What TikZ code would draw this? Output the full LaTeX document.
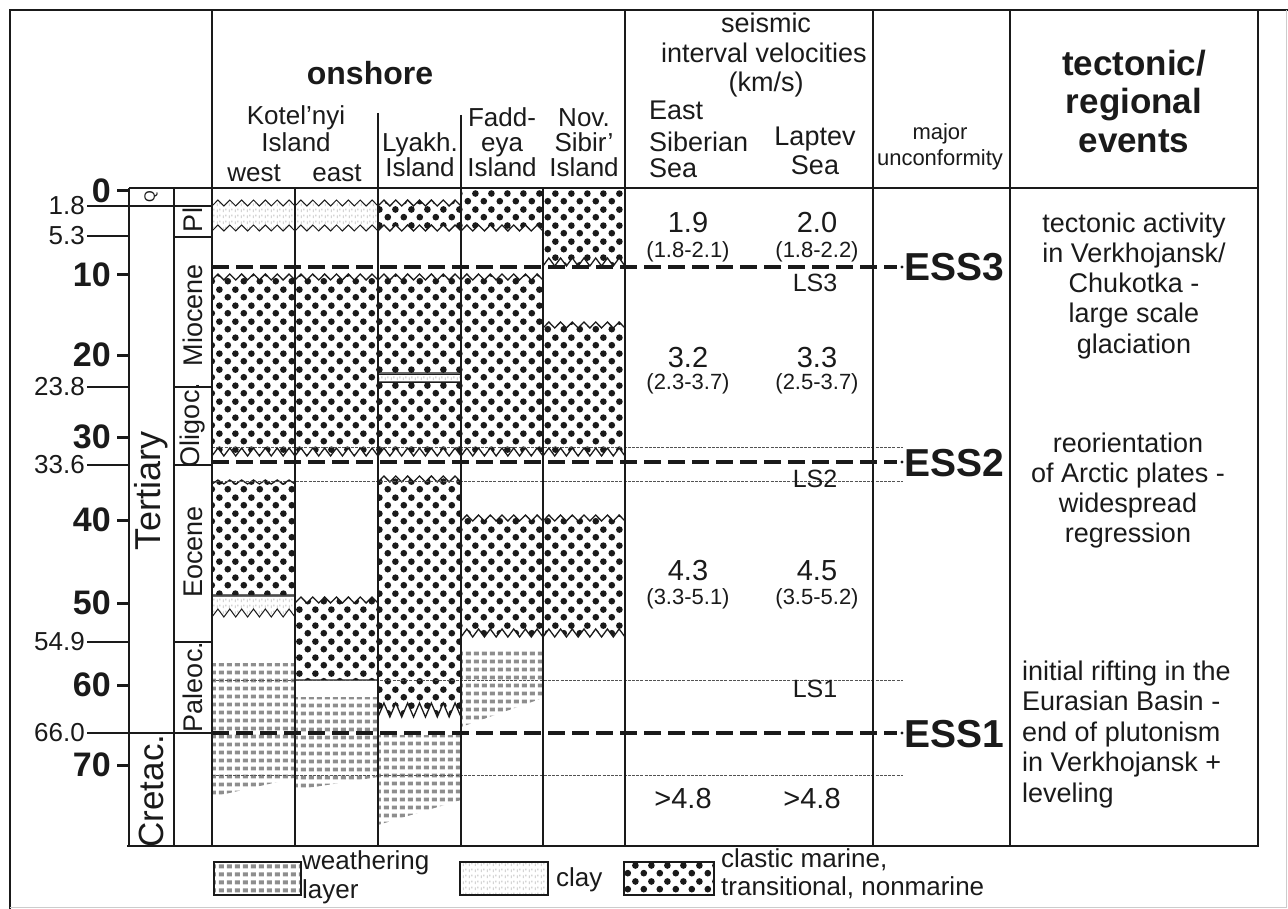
\documentclass[tikz,border=0pt]{standalone}
\usepackage{fontspec}
\setmainfont{Liberation Sans}
\usetikzlibrary{patterns}
\definecolor{ink}{HTML}{1A1A1A}
\definecolor{weathr}{HTML}{8E8E8E}
\definecolor{clayg}{HTML}{BDBDBD}
\definecolor{rim}{HTML}{CCCCCC}
\pgfdeclarepatternformonly{clastic}{\pgfqpoint{0pt}{0pt}}{\pgfqpoint{16pt}{16pt}}{\pgfqpoint{16pt}{16pt}}{%
  \pgfpathcircle{\pgfqpoint{4pt}{4pt}}{3.5pt}%
  \pgfpathcircle{\pgfqpoint{12pt}{12pt}}{3.5pt}%
  \pgfusepath{fill}}
\pgfdeclarepatternformonly{weathering}{\pgfqpoint{0pt}{0pt}}{\pgfqpoint{7.5pt}{7.5pt}}{\pgfqpoint{7.5pt}{7.5pt}}{%
  \pgfpathrectangle{\pgfqpoint{1pt}{1.8pt}}{\pgfqpoint{5.2pt}{4pt}}%
  \pgfusepath{fill}}
\pgfdeclarepatternformonly{clay}{\pgfqpoint{0pt}{0pt}}{\pgfqpoint{6pt}{6pt}}{\pgfqpoint{6pt}{6pt}}{%
  \pgfpathrectangle{\pgfqpoint{1pt}{1pt}}{\pgfqpoint{1pt}{3pt}}%
  \pgfpathrectangle{\pgfqpoint{4pt}{3pt}}{\pgfqpoint{1pt}{2pt}}%
  \pgfusepath{fill}}
% zigzag edge from x=#1 to x=#2 around y=#3, amplitude #4
\newcommand\zzto[4]{\foreach \k in {1,...,14}{ -- ({#1+(#2-#1)*\k/14},{#3+#4-2*#4*mod(\k,2)})}}
% one bed: style, x1, x2, top y, top amplitude, bottom y, bottom amplitude
\newcommand\bed[7]{\draw[#1] (#2,{#4+#5}) \zzto{#2}{#3}{#4}{#5} -- (#3,{#6+#7}) \zzto{#3}{#2}{#6}{#7} -- cycle;}
\tikzset{
  % ---- frame and grid --------------------------------------------
  frame/.style  = {draw=ink, line width=2.6pt},
  colline/.style= {draw=ink, line width=2.4pt},
  thin/.style   = {draw=ink, line width=1.4pt},
  tick/.style   = {draw=ink, line width=3pt},
  ess/.style    = {draw=ink, line width=3.2pt, dash pattern=on 17pt off 7pt},
  lsline/.style = {draw=ink!75, line width=.7pt, dash pattern=on 3pt off 1.2pt},
  % ---- lithology -------------------------------------------------
  bedC/.style   = {pattern=clastic, pattern color=ink, draw=ink, line width=1.3pt},
  bedW/.style   = {pattern=weathering, pattern color=weathr},
  bedL/.style   = {pattern=clay, pattern color=clayg, draw=ink, line width=1pt},
  legbox/.style = {draw=ink, line width=2pt},
  % ---- text (single lines, placed on their base line) ------------
  txt/.style    = {text=ink, inner sep=0pt, anchor=base},
  hdr/.style    = {txt, font=\fontsize{26}{26}\selectfont},
  onsh/.style   = {txt, font=\fontsize{32}{32}\selectfont\bfseries},
  seis/.style   = {txt, font=\fontsize{27}{27}\selectfont},
  evhdr/.style  = {txt, font=\fontsize{35}{35}\selectfont\bfseries},
  small/.style  = {txt, font=\fontsize{22}{22}\selectfont},
  vel/.style    = {txt, font=\fontsize{29}{29}\selectfont},
  velsub/.style = {txt, font=\fontsize{22}{22}\selectfont},
  lsl/.style    = {txt, font=\fontsize{25}{25}\selectfont},
  essl/.style   = {txt, font=\fontsize{39}{39}\selectfont\bfseries, anchor=base west},
  event/.style  = {txt, font=\fontsize{27}{27}\selectfont},
  leg/.style    = {txt, font=\fontsize{26}{26}\selectfont, anchor=base west},
  majnum/.style = {text=ink, inner sep=0pt, font=\fontsize{34}{34}\selectfont\bfseries, anchor=east},
  minnum/.style = {text=ink, inner sep=0pt, font=\fontsize{26}{26}\selectfont, anchor=east},
  epoch/.style  = {text=ink, inner sep=0pt, font=\fontsize{27}{27}\selectfont, rotate=90},
  period/.style = {text=ink, inner sep=0pt, font=\fontsize{36}{36}\selectfont, rotate=90},
}

\begin{document}
\begin{tikzpicture}[x=1pt, y=-1pt]
\useasboundingbox (0,0) rectangle (1288,909);
% ---- weathering layers (beneath) ---------------------------------
\fill[bedW] (212,663) -- (295,663) -- (295,778) -- (212,797) -- cycle;
\fill[bedW] (295,697) -- (378,697) -- (378,777) -- (295,790) -- cycle;
\fill[bedW] (378,735) -- (461,735) -- (461,800) -- (378,825) -- cycle;
\fill[bedW] (461,648) -- (543,648) -- (543,698) -- (461,727) -- cycle;
% ---- clay --------------------------------------------------------
\bed{bedL}{212}{295}{203}{3}{228}{3}
\bed{bedL}{295}{378}{203}{3}{228}{3}
\bed{bedL}{212}{295}{596}{0}{613}{4}
\draw[bedL] (378,374) rectangle (461,382);
% ---- clastic -----------------------------------------------------
\bed{bedC}{212}{295}{277}{3}{452}{4}
\bed{bedC}{212}{295}{482}{2}{595}{0}
\bed{bedC}{295}{378}{277}{3}{452}{4}
\bed{bedC}{295}{378}{600}{3}{680}{0}
\bed{bedC}{378}{461}{203}{3}{228}{3}
\bed{bedC}{378}{461}{277}{3}{373}{0}
\bed{bedC}{378}{461}{382}{0}{452}{4}
\bed{bedC}{378}{461}{479}{3}{710}{7}
\bed{bedC}{461}{543}{188}{0}{228}{3}
\bed{bedC}{461}{543}{277}{3}{452}{4}
\bed{bedC}{461}{543}{518}{3}{633}{4}
\bed{bedC}{543}{625}{188}{0}{262}{4}
\bed{bedC}{543}{625}{325}{3}{452}{4}
\bed{bedC}{543}{625}{518}{3}{633}{4}
% ---- seismic horizons --------------------------------------------
\foreach \y in {447,481,680,775}{\draw[lsline] (212,\y) -- (903,\y);}
\foreach \y/\n in {267/3,462/2,733/1}{
  \draw[ess] (212,\y) -- (897,\y);
  \fill[ink] (902,\y) circle (1.6);
  \node[essl] (ess\n) at (904,\y+14) {ESS\n};
}
% ---- grid --------------------------------------------------------
\draw[frame] (10,909) -- (10,10) -- (1288,10);
\draw[rim, line width=1pt] (10,907) -- (1286,907) -- (1286,10);
\draw[colline] (212,10) -- (212,846);
\foreach \x in {625,873,1010,1258}{\draw[colline] (\x,10) -- (\x,846);}
\foreach \x in {129,174,295,543}{\draw[colline] (\x,188) -- (\x,846);}
\draw[colline] (378,113) -- (378,846);
\draw[colline] (461,115) -- (461,846);
\draw[colline] (129,188) -- (1258,188);
\draw[frame] (127,846) -- (1259,846);
% ---- time scale --------------------------------------------------
\foreach \v/\y in {0/191,10/275,20/355,30/437,40/520,50/603,60/685,70/765}{
  \draw[tick] (117,\y) -- (129,\y);
  \node[majnum] (ma\v) at (111,\y) {\v};
}
\foreach \v/\y [count=\n] in {1.8/206,5.3/236,23.8/387,33.6/465,54.9/642,66.0/733}{
  \draw[thin] (87,\y) -- (129,\y);
  \node[minnum] (mi\n) at (85,\y) {\v};
}
\draw[thin] (129,206) -- (212,206);
\draw[thin] (129,733) -- (212,733);
\foreach \y in {237,387,465,642}{\draw[thin] (174,\y) -- (212,\y);}
\node[epoch, font=\fontsize{15}{15}\selectfont] (pQ) at (151,197) {Q};
\node[period] (pTert) at (151,491) {Tertiary};
\node[period, font=\fontsize{35}{35}\selectfont] (pCret) at (151,791) {Cretac.};
\node[epoch] (ePl) at (193,220) {Pl};
\node[epoch] (eMio) at (193,315) {Miocene};
\node[epoch] (eOli) at (193,425) {Oligoc.};
\node[epoch] (eEoc) at (193,552) {Eocene};
\node[epoch] (ePal) at (193,687) {Paleoc.};
% ---- headers -----------------------------------------------------
\node[onsh] (hOn) at (370,85) {onshore};
\node[hdr] (hKot1) at (296,125) {Kotel'nyi};
\node[hdr] (hKot2) at (296,152) {Island};
\node[hdr] (hW) at (254,182) {west};
\node[hdr] (hE) at (337,182) {east};
\node[hdr] (hLya1) at (420,152) {Lyakh.};
\node[hdr] (hLya2) at (420,177) {Island};
\node[hdr] (hFad1) at (502,127) {Fadd-};
\node[hdr] (hFad2) at (502,152) {eya};
\node[hdr] (hFad3) at (502,177) {Island};
\node[hdr] (hNov1) at (584,127) {Nov.};
\node[hdr] (hNov2) at (584,152) {Sibir'};
\node[hdr] (hNov3) at (584,177) {Island};
\node[seis] (hSe1) at (766,33) {seismic};
\node[seis] (hSe2) at (764,63) {interval velocities};
\node[seis] (hSe3) at (766,92) {(km/s)};
\node[seis, anchor=base west] (hEs1) at (649,120) {East};
\node[seis, anchor=base west] (hEs2) at (649,152) {Siberian};
\node[seis, anchor=base west] (hEs3) at (649,178) {Sea};
\node[seis] (hLa1) at (815,146) {Laptev};
\node[seis] (hLa2) at (815,175) {Sea};
\node[small] (hUn1) at (940,140) {major};
\node[small] (hUn2) at (940,166) {unconformity};
\node[evhdr] (hEv1) at (1134,76) {tectonic/};
\node[evhdr] (hEv2) at (1134,114) {regional};
\node[evhdr] (hEv3) at (1134,153) {events};
% ---- velocities --------------------------------------------------
\foreach \x/\a/\b/\c/\n in {688/1.9/3.2/4.3/ess,817/2.0/3.3/4.5/lap}{
  \node[vel] (v\n3) at (\x,233) {\a};
  \node[vel] (v\n2) at (\x,367) {\b};
  \node[vel] (v\n1) at (\x,580) {\c};
  \node[vel] (v\n0) at (\x-5,808) {>4.8};
}
\node[velsub] (r1) at (688,258) {(1.8-2.1)};
\node[velsub] (r2) at (817,258) {(1.8-2.2)};
\node[velsub] (r3) at (688,389) {(2.3-3.7)};
\node[velsub] (r4) at (817,389) {(2.5-3.7)};
\node[velsub] (r5) at (688,604) {(3.3-5.1)};
\node[velsub] (r6) at (817,604) {(3.5-5.2)};
\node[lsl] (ls3) at (815,292) {LS3};
\node[lsl] (ls2) at (815,487) {LS2};
\node[lsl] (ls1) at (815,697) {LS1};
% ---- events ------------------------------------------------------
\foreach \t [count=\i from 0] in {tectonic activity,in Verkhojansk/,Chukotka -,large scale,glaciation}
  \node[event] (evA\i) at (1134,{233+30*\i}) {\t};
\foreach \t [count=\i from 0] in {reorientation,of Arctic plates -,widespread,regression}
  \node[event] (evB\i) at (1128,{452+30*\i}) {\t};
\foreach \t [count=\i from 0] in {initial rifting in the,Eurasian Basin -,end of plutonism,in Verkhojansk +,leveling}
  \node[event, anchor=base west] (evC\i) at (1022,{680+30.5*\i}) {\t};
% ---- legend ------------------------------------------------------
\filldraw[legbox, pattern=weathering, pattern color=weathr] (214,862) rectangle (301,895);
\node[leg] (lW1) at (302,869) {weathering};
\node[leg] (lW2) at (302,898) {layer};
\filldraw[legbox, pattern=clay, pattern color=clayg] (460,862) rectangle (548,895);
\node[leg] (lL) at (556,886) {clay};
\filldraw[legbox, pattern=clastic, pattern color=ink] (624,862) rectangle (714,895);
\node[leg] (lC1) at (721,867) {clastic marine,};
\node[leg] (lC2) at (721,895) {transitional, nonmarine};
\end{tikzpicture}
\end{document}
